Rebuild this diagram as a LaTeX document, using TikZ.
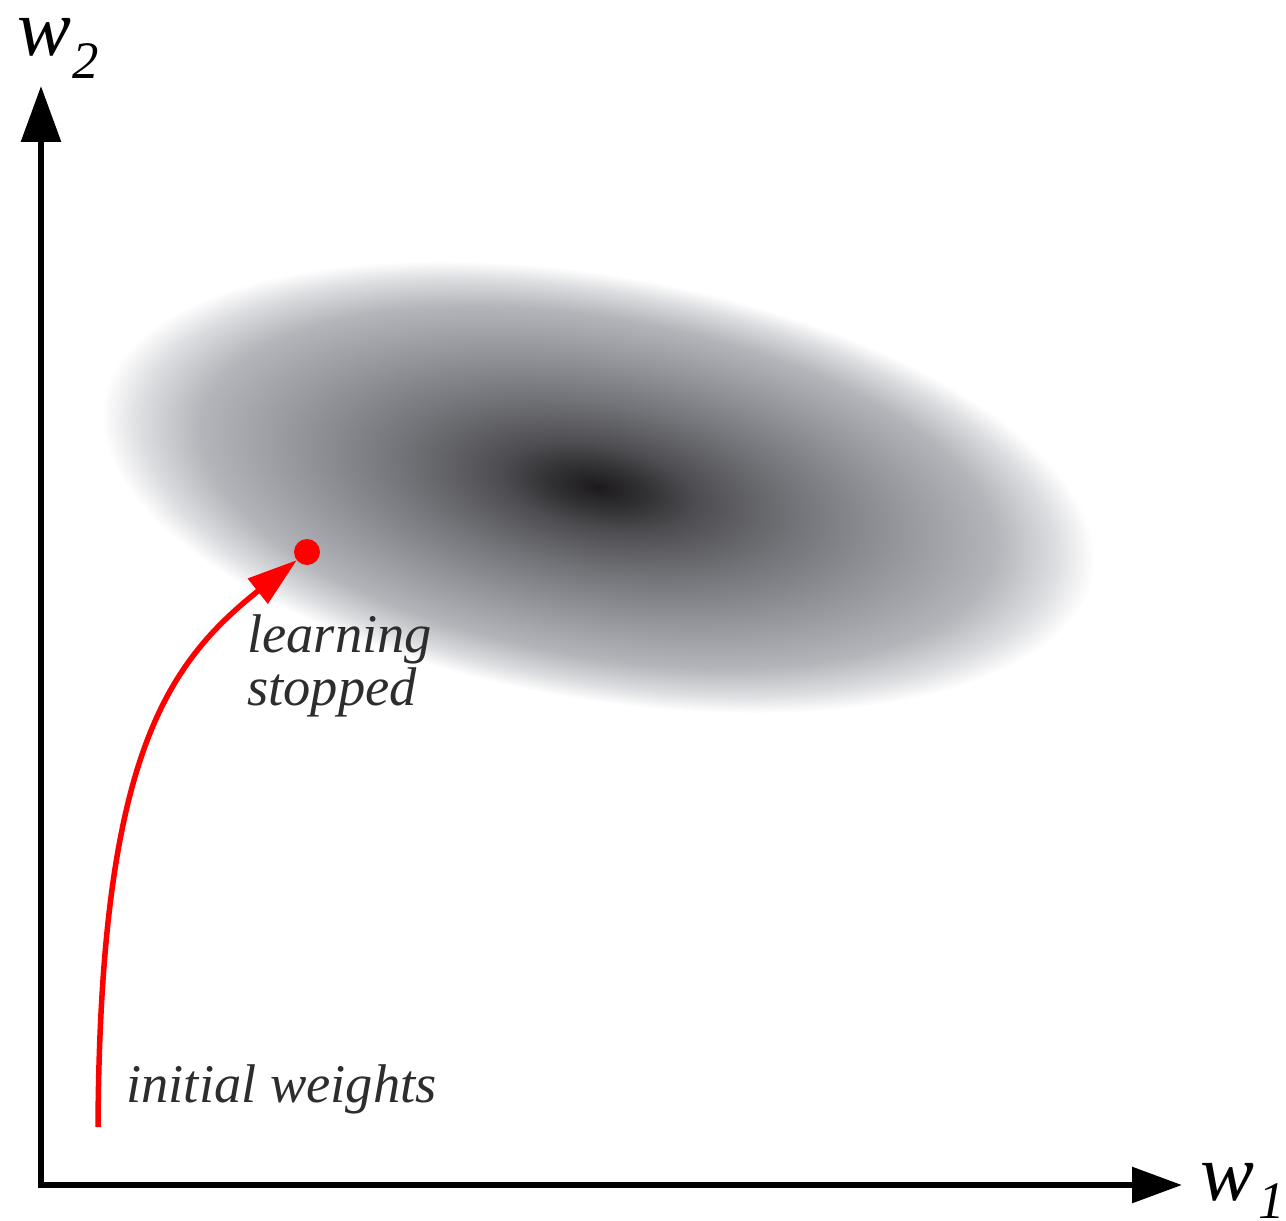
\documentclass[tikz,border=0pt]{standalone}
\usepackage{fontspec}
\setmainfont{Liberation Serif}
\usetikzlibrary{arrows.meta}
\definecolor{g0}{RGB}{28,26,28}
\definecolor{g1}{RGB}{50,49,52}
\definecolor{g2}{RGB}{78,78,82}
\definecolor{g3}{RGB}{115,116,121}
\definecolor{g4}{RGB}{148,149,154}
\definecolor{g5}{RGB}{180,181,186}
\definecolor{g6}{RGB}{220,221,224}
\definecolor{txtgray}{RGB}{45,45,45}
\pgfdeclareradialshading{blob}{\pgfpoint{0bp}{0bp}}{color(0bp)=(g0); color(2.5bp)=(g1); color(5bp)=(g2); color(10bp)=(g3); color(15bp)=(g4); color(20bp)=(g5); color(23bp)=(g6); color(25bp)=(white); color(50bp)=(white)}
\tikzset{
  axisline/.style={line width=0.12cm, line join=miter, black},
  redpath/.style={line width=0.11cm, red},
  lbl/.style={inner sep=0pt, text=txtgray, font=\fontsize{31pt}{31pt}\selectfont\itshape},
  axlbl/.style={inner sep=0pt, text=black, font=\fontsize{46pt}{46pt}\selectfont\itshape},
  sublbl/.style={inner sep=0pt, text=black, font=\fontsize{30pt}{30pt}\selectfont\itshape},
  dotnode/.style={circle, fill=red, inner sep=0pt, minimum size=0.52cm}
}
\begin{document}
\begin{tikzpicture}[x=0.02cm, y=-0.02cm]
\useasboundingbox (0,0) rectangle (1286,1221);
% shaded blob
\begin{scope}[transform canvas={rotate around={-10:(598,487)}}]
  \shade[shading=blob] (598,487) ellipse [x radius=503, y radius=212];
\end{scope}
% axes
\coordinate (O) at (41,1185);
\coordinate (ytip) at (41,86);
\coordinate (xtip) at (1182,1185);
\draw[axisline, {Triangle[length=1.12cm, width=0.78cm]}-{Triangle[length=1.0cm, width=0.70cm]}] (ytip) -- (O) -- (xtip);
% axis labels
\node[axlbl, anchor=base west] (w2) at (17,55) {w};
\node[sublbl, anchor=base west] (w2s) at (72,78) {2};
\node[axlbl, anchor=base west] (w1) at (1200,1200) {w};
\node[sublbl, anchor=base west] (w1s) at (1258,1218) {1};
% learning path
\coordinate (start) at (98,1127);
\node[dotnode] (dot) at (307,552) {};
\draw[redpath, -{Triangle[length=1.0cm, width=0.62cm]}, shorten >=0.26cm] (start) .. controls (100,760) and (165,665) .. (dot.center);
% texts
\node[lbl, anchor=base west] (learn) at (247,652) {learning};
\node[lbl, anchor=base west] (stop) at (247,705) {stopped};
\node[lbl, anchor=base west] (init) at (126,1102) {initial weights};
\end{tikzpicture}
\end{document}
